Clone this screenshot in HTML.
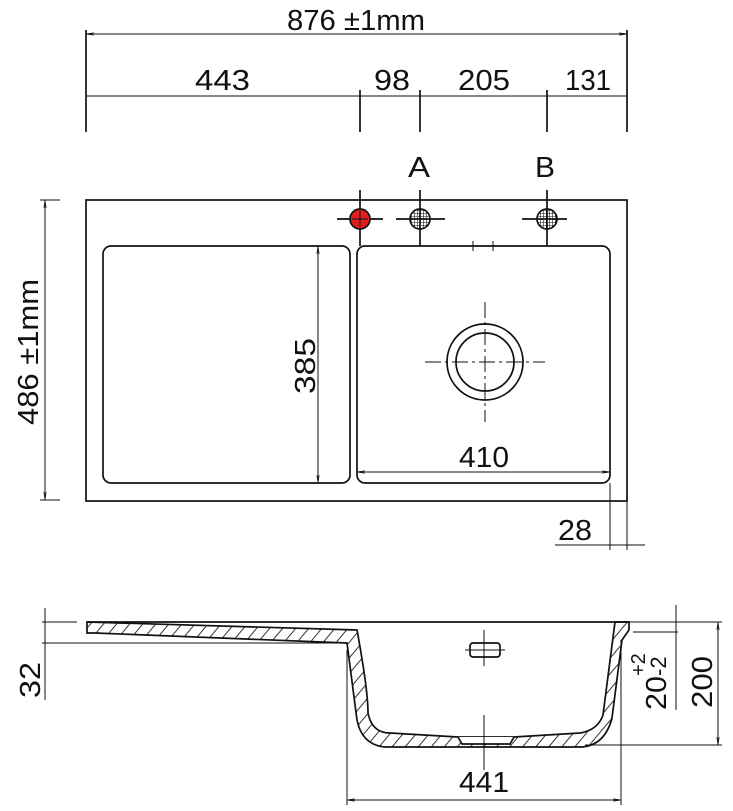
<!DOCTYPE html>
<html><head><meta charset="utf-8"><style>
html,body{margin:0;padding:0;background:#fff;}
svg{display:block;}
text{font-family:"Liberation Sans",sans-serif;fill:#111;}
</style></head><body>
<svg width="733" height="811" viewBox="0 0 733 811" xmlns="http://www.w3.org/2000/svg">
<defs>
<pattern id="h" patternUnits="userSpaceOnUse" width="10" height="10" patternTransform="rotate(40)">
<line x1="0" y1="0" x2="0" y2="10" stroke="#111" stroke-width="1.7"/>
</pattern>
<pattern id="g" patternUnits="userSpaceOnUse" width="3" height="3">
<path d="M0 0H3M0 0V3" stroke="#111" stroke-width="1.1"/>
</pattern>
<marker id="a" viewBox="0 0 10 6" refX="10" refY="3" markerWidth="8" markerHeight="5" orient="auto-start-reverse">
<path d="M0 1.5L10 3L0 4.5" fill="none" stroke="#111" stroke-width="0.8"/>
</marker>
</defs>
<g stroke="#111" stroke-width="1.7" fill="none">
<line x1="86" y1="30" x2="86" y2="132"/>
<line x1="627" y1="30" x2="627" y2="132"/>
<line x1="86" y1="34" x2="627" y2="34" marker-start="url(#a)" marker-end="url(#a)" stroke-width="1"/>
<line x1="86" y1="96" x2="627" y2="96" stroke-width="1"/>
<line x1="360" y1="90" x2="360" y2="132"/>
<line x1="420" y1="90" x2="420" y2="132"/>
<line x1="547" y1="90" x2="547" y2="132"/>
<rect x="86" y="200" width="541" height="301"/>
<rect x="103" y="246" width="247" height="237" rx="8"/>
<rect x="357" y="246" width="253" height="237" rx="8"/>
<line x1="473" y1="241" x2="473" y2="251" stroke-width="1"/>
<line x1="493" y1="241" x2="493" y2="251" stroke-width="1"/>
<line x1="360" y1="190" x2="360" y2="246"/><line x1="337" y1="219" x2="383" y2="219"/>
<line x1="420" y1="190" x2="420" y2="246"/><line x1="396" y1="219" x2="445" y2="219"/>
<line x1="547" y1="190" x2="547" y2="246"/><line x1="522" y1="219" x2="567" y2="219"/>
<circle cx="360" cy="219" r="10" fill="#e02020"/>
<circle cx="420" cy="219" r="10" fill="url(#g)"/>
<circle cx="547" cy="219" r="10" fill="url(#g)"/>
<line x1="352" y1="219" x2="368" y2="219" stroke-width="1"/><line x1="360" y1="211" x2="360" y2="227" stroke-width="1"/>
<circle cx="485" cy="362" r="38"/>
<circle cx="485" cy="362" r="29"/>
<line x1="425" y1="362" x2="545" y2="362" stroke-dasharray="16 4 3 4" stroke-width="1"/>
<line x1="485" y1="302" x2="485" y2="422" stroke-dasharray="16 4 3 4" stroke-width="1"/>
<line x1="318" y1="246" x2="318" y2="483" stroke-width="1" marker-start="url(#a)" marker-end="url(#a)"/>
<line x1="357" y1="472" x2="610" y2="472" stroke-width="1" marker-start="url(#a)" marker-end="url(#a)"/>
<line x1="610" y1="483" x2="610" y2="550" stroke-width="1"/>
<line x1="627" y1="501" x2="627" y2="550" stroke-width="1"/>
<line x1="555" y1="545" x2="645" y2="545" stroke-width="1"/>
<line x1="40" y1="200" x2="60" y2="200" stroke-width="1"/>
<line x1="40" y1="500" x2="60" y2="500" stroke-width="1"/>
<line x1="45" y1="200" x2="45" y2="500" stroke-width="1" marker-start="url(#a)" marker-end="url(#a)"/>

<line x1="87" y1="622" x2="629" y2="622"/>
<path d="M87 622 L357 630 Q368 690 368 713 Q372 733 390 733 L458 737 L514 737 L580 733 Q598 730 603 715 L615 622 L629 622 L629 630 L622 640 L612 718 Q605 745 582 747 L385 747 Q362 745 357 720 L347 643 L95 633 L87 633 Z" fill="url(#h)"/>
<path d="M458 737 L462 744 L510 744 L514 737" fill="#fff"/>
<line x1="42" y1="622" x2="77" y2="622" stroke-width="1"/>
<line x1="42" y1="643" x2="347" y2="643" stroke-width="1"/>
<line x1="45" y1="608" x2="45" y2="700" stroke-width="1"/>
<rect x="470" y="643" width="30" height="14" rx="3"/>
<line x1="484" y1="630" x2="484" y2="666" stroke-width="1"/>
<line x1="465" y1="650" x2="505" y2="650" stroke-width="1"/>
<line x1="484" y1="715" x2="484" y2="770" stroke-width="1"/>
<line x1="347" y1="650" x2="347" y2="805" stroke-width="1"/>
<line x1="621" y1="640" x2="621" y2="805" stroke-width="1"/>
<line x1="347" y1="800" x2="621" y2="800" stroke-width="1" marker-start="url(#a)" marker-end="url(#a)"/>
<line x1="629" y1="622" x2="722" y2="622" stroke-width="1"/>
<line x1="585" y1="745" x2="722" y2="745" stroke-width="1"/>
<line x1="718" y1="622" x2="718" y2="745" stroke-width="1" marker-start="url(#a)" marker-end="url(#a)"/>
<line x1="633" y1="632" x2="678" y2="632" stroke-width="1"/>
<line x1="676" y1="605" x2="676" y2="710" stroke-width="1"/>
</g>
<g font-size="29">
<text x="287" y="30" textLength="138" lengthAdjust="spacingAndGlyphs">876 ±1mm</text>
<text x="195" y="90" textLength="55" lengthAdjust="spacingAndGlyphs">443</text>
<text x="374" y="90" textLength="36" lengthAdjust="spacingAndGlyphs">98</text>
<text x="458" y="90" textLength="52" lengthAdjust="spacingAndGlyphs">205</text>
<text x="565" y="90" textLength="46" lengthAdjust="spacingAndGlyphs">131</text>
<text x="408" y="177" textLength="22" lengthAdjust="spacingAndGlyphs">A</text>
<text x="535" y="177" textLength="20" lengthAdjust="spacingAndGlyphs">B</text>
<text x="459" y="467" textLength="50" lengthAdjust="spacingAndGlyphs">410</text>
<text x="558" y="540" textLength="34" lengthAdjust="spacingAndGlyphs">28</text>
<text x="459" y="792" textLength="50" lengthAdjust="spacingAndGlyphs">441</text>
<text transform="translate(315,394) rotate(-90)" textLength="56" lengthAdjust="spacingAndGlyphs">385</text>
<text transform="translate(38,425) rotate(-90)" textLength="146" lengthAdjust="spacingAndGlyphs">486 ±1mm</text>
<text transform="translate(40,698) rotate(-90)" textLength="36" lengthAdjust="spacingAndGlyphs">32</text>
<text transform="translate(712,708) rotate(-90)" textLength="52" lengthAdjust="spacingAndGlyphs">200</text>
<text transform="translate(666,710) rotate(-90)" textLength="34" lengthAdjust="spacingAndGlyphs">20</text>
<text transform="translate(666,676) rotate(-90)" font-size="22">-2</text>
<text transform="translate(645,676) rotate(-90)" font-size="20">+2</text>
</g>
</svg>
</body></html>
